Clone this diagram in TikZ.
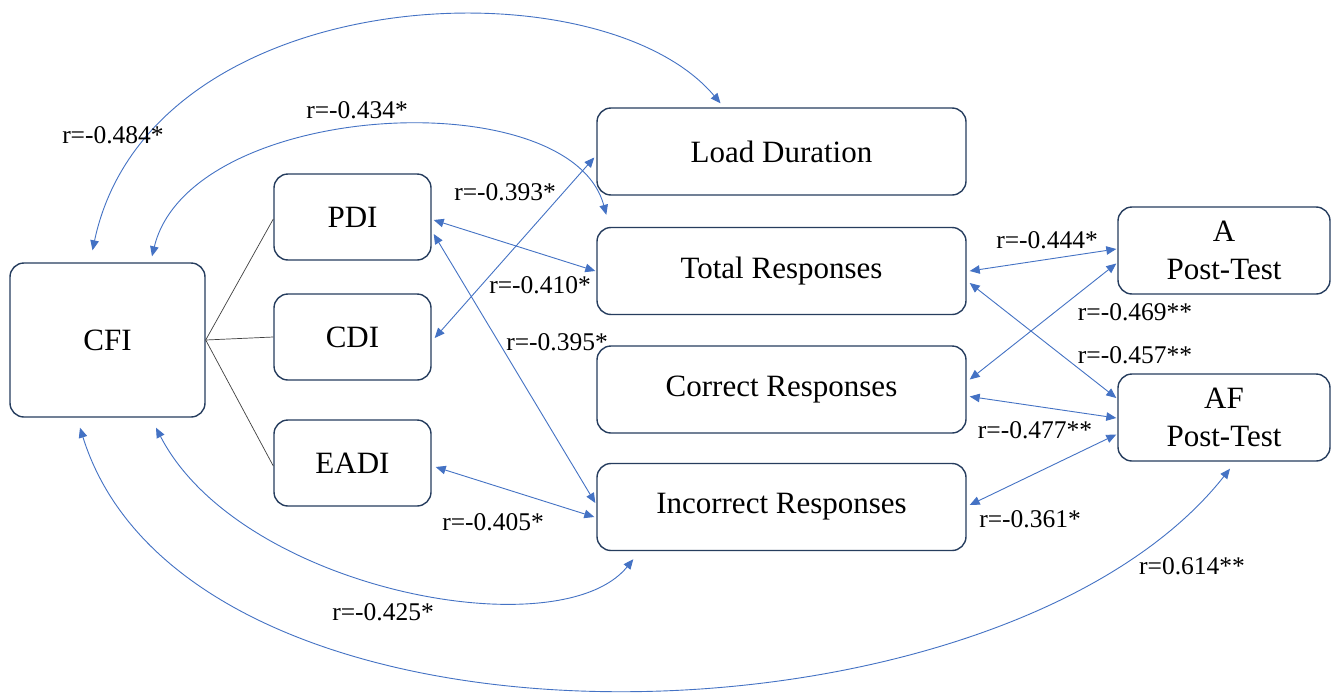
\documentclass[tikz,border=0pt]{standalone}
\usepackage{fontspec}
\setmainfont{Liberation Serif}
\usepackage{tikz}
\usetikzlibrary{arrows.meta,shapes,calc}
\definecolor{boxline}{HTML}{263D5E}
\definecolor{corrblue}{HTML}{4472C4}
\definecolor{linkgray}{HTML}{404040}

\begin{document}
\begin{tikzpicture}[x=1pt,y=-1pt]
            \tikzstyle{box}=[rectangle,draw=boxline,line width=1.4pt,rounded corners=14pt,align=center,font=\fontsize{31}{38}\selectfont]
            \tikzstyle{corr}=[draw=corrblue,line width=0.9pt,>={Triangle[length=10pt,width=8.5pt]},<->]
            \tikzstyle{link}=[draw=linkgray,line width=0.7pt]
            \tikzstyle{rlabel}=[inner sep=0pt,font=\fontsize{25.5}{30}\selectfont]

            \path[use as bounding box,fill=white] (0,0) rectangle (1332,696);

            \node[box,minimum width=195pt,minimum height=154pt] (N-cfi) at (107.5,340) {CFI};
            \node[box,minimum width=157pt,minimum height=86pt] (N-pdi) at (352.5,217) {PDI};
            \node[box,minimum width=157pt,minimum height=86pt] (N-cdi) at (352.5,337) {CDI};
            \node[box,minimum width=157pt,minimum height=86pt] (N-eadi) at (352.5,463) {EADI};
            \node[box,minimum width=369pt,minimum height=87pt] (N-load) at (781.5,151.5) {Load Duration};
            \node[box,minimum width=369pt,minimum height=87pt] (N-total) at (781.5,271) {Total Responses};
            \node[box,minimum width=369pt,minimum height=87pt] (N-correct) at (781.5,389.5) {Correct Responses};
            \node[box,minimum width=369pt,minimum height=87pt] (N-incorrect) at (781.5,507) {Incorrect Responses};
            \node[box,minimum width=212pt,minimum height=87pt] (N-apost) at (1224,250.5) {A\\Post-Test};
            \node[box,minimum width=212pt,minimum height=87pt] (N-afpost) at (1224,417.5) {AF\\Post-Test};

            \draw[link] (N-cfi.east) -- ($(N-pdi.west)+(0,2)$);
            \draw[link] (N-cfi.east) -- (N-cdi.west);
            \draw[link] (N-cfi.east) -- ($(N-eadi.west)+(0,3)$);

            % long arcs round the left
            \draw[corr] ($(N-cfi.north)+(-15,-12)$) .. controls (150,-20) and (600,-40) .. ($(N-load.north)+(-61,-4)$);
            \draw[corr] ($(N-cfi.north)+(44.5,-6)$) .. controls (190,100) and (570,80) .. ($(N-total.north west)+(10,-12)$);
            \draw[corr] ($(N-cfi.south)+(48.5,10)$) .. controls (240,590) and (560,650) .. ($(N-incorrect.south west)+(37,8)$);
            \draw[corr] ($(N-cfi.south)+(-27.5,10)$) .. controls (190,780) and (1000,760) .. ($(N-afpost.south)+(6,7)$);

            % middle column
            \draw[corr] ($(N-pdi.east)+(2,3)$) -- ($(N-total.west)+(-1,0)$);
            \draw[corr] ($(N-pdi.east)+(2,17)$) -- ($(N-incorrect.west)+(-1,-4)$);
            \draw[corr] ($(N-cdi.east)+(3,1)$) -- ($(N-load.west)+(-2,6)$);
            \draw[corr] ($(N-eadi.east)+(4,4)$) -- ($(N-incorrect.west)+(-2,10)$);

            % right column
            \draw[corr] ($(N-total.east)+(3,0)$) -- ($(N-apost.west)+(-1,-1.5)$);
            \draw[corr] ($(N-correct.east)+(3,-10)$) -- ($(N-apost.west)+(-1,13)$);
            \draw[corr] ($(N-total.east)+(3,12)$) -- ($(N-afpost.west)+(-1,-19.5)$);
            \draw[corr] ($(N-correct.east)+(3,7)$) -- ($(N-afpost.west)+(-1,0.5)$);
            \draw[corr] ($(N-incorrect.east)+(3,-2)$) -- ($(N-afpost.west)+(-1,17)$);

            \node[rlabel] (L-484) at (113,135) {r=-0.484*};
            \node[rlabel] (L-434) at (357,110) {r=-0.434*};
            \node[rlabel] (L-393) at (505,192) {r=-0.393*};
            \node[rlabel] (L-410) at (540,285) {r=-0.410*};
            \node[rlabel] (L-395) at (557,342) {r=-0.395*};
            \node[rlabel] (L-405) at (493,522) {r=-0.405*};
            \node[rlabel] (L-425) at (383,612) {r=-0.425*};
            \node[rlabel] (L-444) at (1047,240) {r=-0.444*};
            \node[rlabel] (L-469) at (1135,312) {r=-0.469**};
            \node[rlabel] (L-457) at (1135,355) {r=-0.457**};
            \node[rlabel] (L-477) at (1035,430) {r=-0.477**};
            \node[rlabel] (L-361) at (1030,519) {r=-0.361*};
            \node[rlabel] (L-614) at (1192,566) {r=0.614**};
        \end{tikzpicture}
\end{document}
